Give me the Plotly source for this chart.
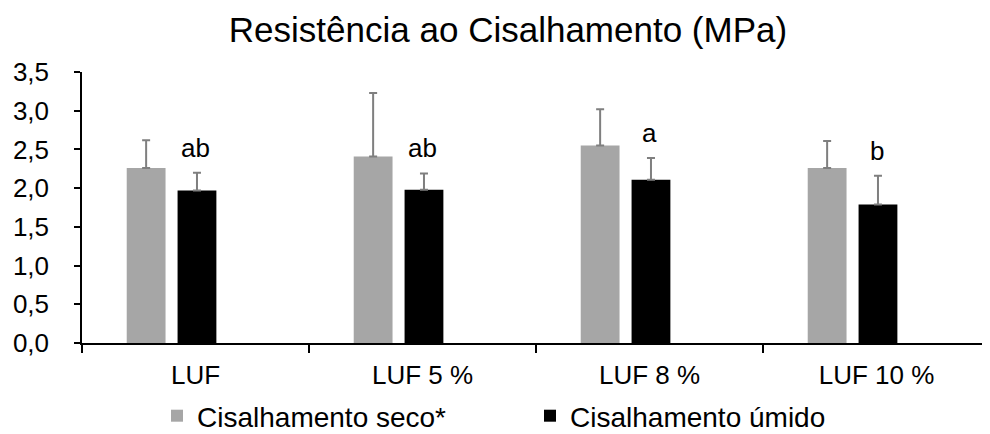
import plotly.graph_objects as go

categories = ["LUF", "LUF 5 %", "LUF 8 %", "LUF 10 %"]
seco_mean = [2.26, 2.41, 2.55, 2.26]
seco_err = [0.36, 0.82, 0.47, 0.35]
umido_mean = [1.97, 1.98, 2.11, 1.79]
umido_err = [0.23, 0.21, 0.28, 0.37]
letters = ["ab", "ab", "a", "b"]
yticks = [0, 0.5, 1.0, 1.5, 2.0, 2.5, 3.0, 3.5]
ytick_text = ["0,0", "0,5", "1,0", "1,5", "2,0", "2,5", "3,0", "3,5"]

FONT = "Liberation Sans, Arial, sans-serif"
err_style = dict(type="data", symmetric=False, color="#7f7f7f", thickness=2, width=4)

fig = go.Figure()
fig.add_trace(go.Bar(
    x=categories, y=seco_mean, name="Cisalhamento seco*",
    marker=dict(color="#a6a6a6", line=dict(width=0)),
    offset=-0.303, width=0.171,
    error_y=dict(array=seco_err, arrayminus=[0] * len(seco_err), **err_style),
))
fig.add_trace(go.Bar(
    x=categories, y=umido_mean, name="Cisalhamento úmido",
    marker=dict(color="#000000", line=dict(width=0)),
    offset=-0.079, width=0.171,
    error_y=dict(array=umido_err, arrayminus=[0] * len(umido_err), **err_style),
))

for c, m, e, t in zip(categories, umido_mean, umido_err, letters):
    fig.add_annotation(x=c, y=m + e, text=t, showarrow=False, yanchor="bottom",
                       yshift=8, font=dict(family=FONT, size=26, color="#000"))

fig.update_layout(
    width=990, height=434,
    margin=dict(l=74, r=8, t=64, b=99, autoexpand=False),
    paper_bgcolor="white", plot_bgcolor="white",
    font=dict(family=FONT, color="#000"),
    title=dict(text="Resistência ao Cisalhamento (MPa)", x=500 / 990, xanchor="center",
               xref="container", y=1 - 22 / 434, yref="container", yanchor="middle",
               font=dict(family=FONT, size=35, color="#000")),
    barmode="overlay",
    showlegend=True,
    legend=dict(orientation="h", x=149 / 990, xanchor="left", xref="container",
                y=1 - 408 / 434, yref="container", yanchor="middle",
                font=dict(family=FONT, size=28, color="#000"),
                entrywidth=328, entrywidthmode="pixels", itemwidth=30,
                traceorder="normal"),
)
fig.update_xaxes(
    type="category", showline=True, linecolor="#000", linewidth=1.5,
    ticks="outside", tickson="boundaries", ticklen=8, tickcolor="#000", tickwidth=1.5,
    tickfont=dict(family=FONT, size=26, color="#000"), showgrid=False,
    ticklabelstandoff=8, range=[-0.5, 3.5], automargin=False,
)
fig.update_yaxes(
    range=[0, 3.5], tickvals=yticks, ticktext=ytick_text,
    showline=True, linecolor="#000", linewidth=1.5, showgrid=False, zeroline=False,
    ticks="outside", ticklen=6, tickcolor="#000", tickwidth=1.5,
    tickfont=dict(family=FONT, size=26, color="#000"), ticklabelstandoff=20,
    automargin=False,
)

fig.write_html("out.html")
